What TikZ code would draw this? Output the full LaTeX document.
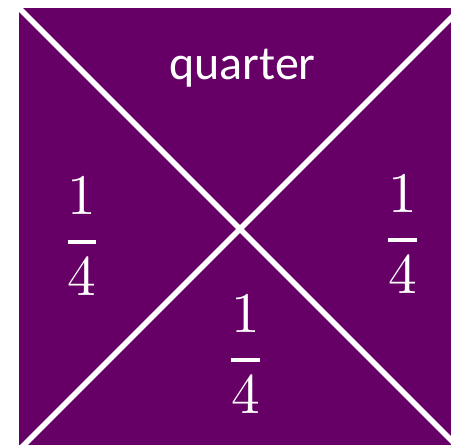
\documentclass[tikz,border=0pt]{standalone}
\usepackage{amsmath}
\usepackage{fontspec}
\usepackage{unicode-math}
\setmainfont{Carlito}
\setmathfont{Latin Modern Math}
\usepackage{tikz}
\definecolor{quarterpurple}{RGB}{102,0,102}
\tikzset{
    squarebox/.style={fill=quarterpurple, minimum size=331.5pt,
        inner sep=0pt, outer sep=0pt},
    diagline/.style={draw=white, line width=4.2pt},
    fraclabel/.style={text=white, anchor=base, inner sep=0pt,
        font=\fontsize{43}{50}\selectfont},
    wordlabel/.style={text=white, anchor=base, inner sep=0pt,
        font=\fontsize{36}{42}\selectfont}
}
\begin{document}
\begin{tikzpicture}[x=0.75pt, y=-0.75pt]
        \clip (0,0) rectangle (451,445);
        \node[squarebox] (sq) at (240,229) {};

        \draw[diagline] (sq.north west) -- (sq.south east);
        \draw[diagline] (sq.north east) -- (sq.south west);

        \node[wordlabel] (top) at (242.5,80) {quarter};
        \node[fraclabel] (left) at (82,256.5)
            {$\genfrac{}{}{3pt}{0}{1\rule[-14pt]{0pt}{0pt}}{4}$};
        \node[fraclabel] (bottom) at (245.5,374)
            {$\genfrac{}{}{3pt}{0}{1\rule[-14pt]{0pt}{0pt}}{4}$};
        \node[fraclabel] (right) at (402.5,254)
            {$\genfrac{}{}{3pt}{0}{1\rule[-14pt]{0pt}{0pt}}{4}$};
    \end{tikzpicture}
\end{document}
